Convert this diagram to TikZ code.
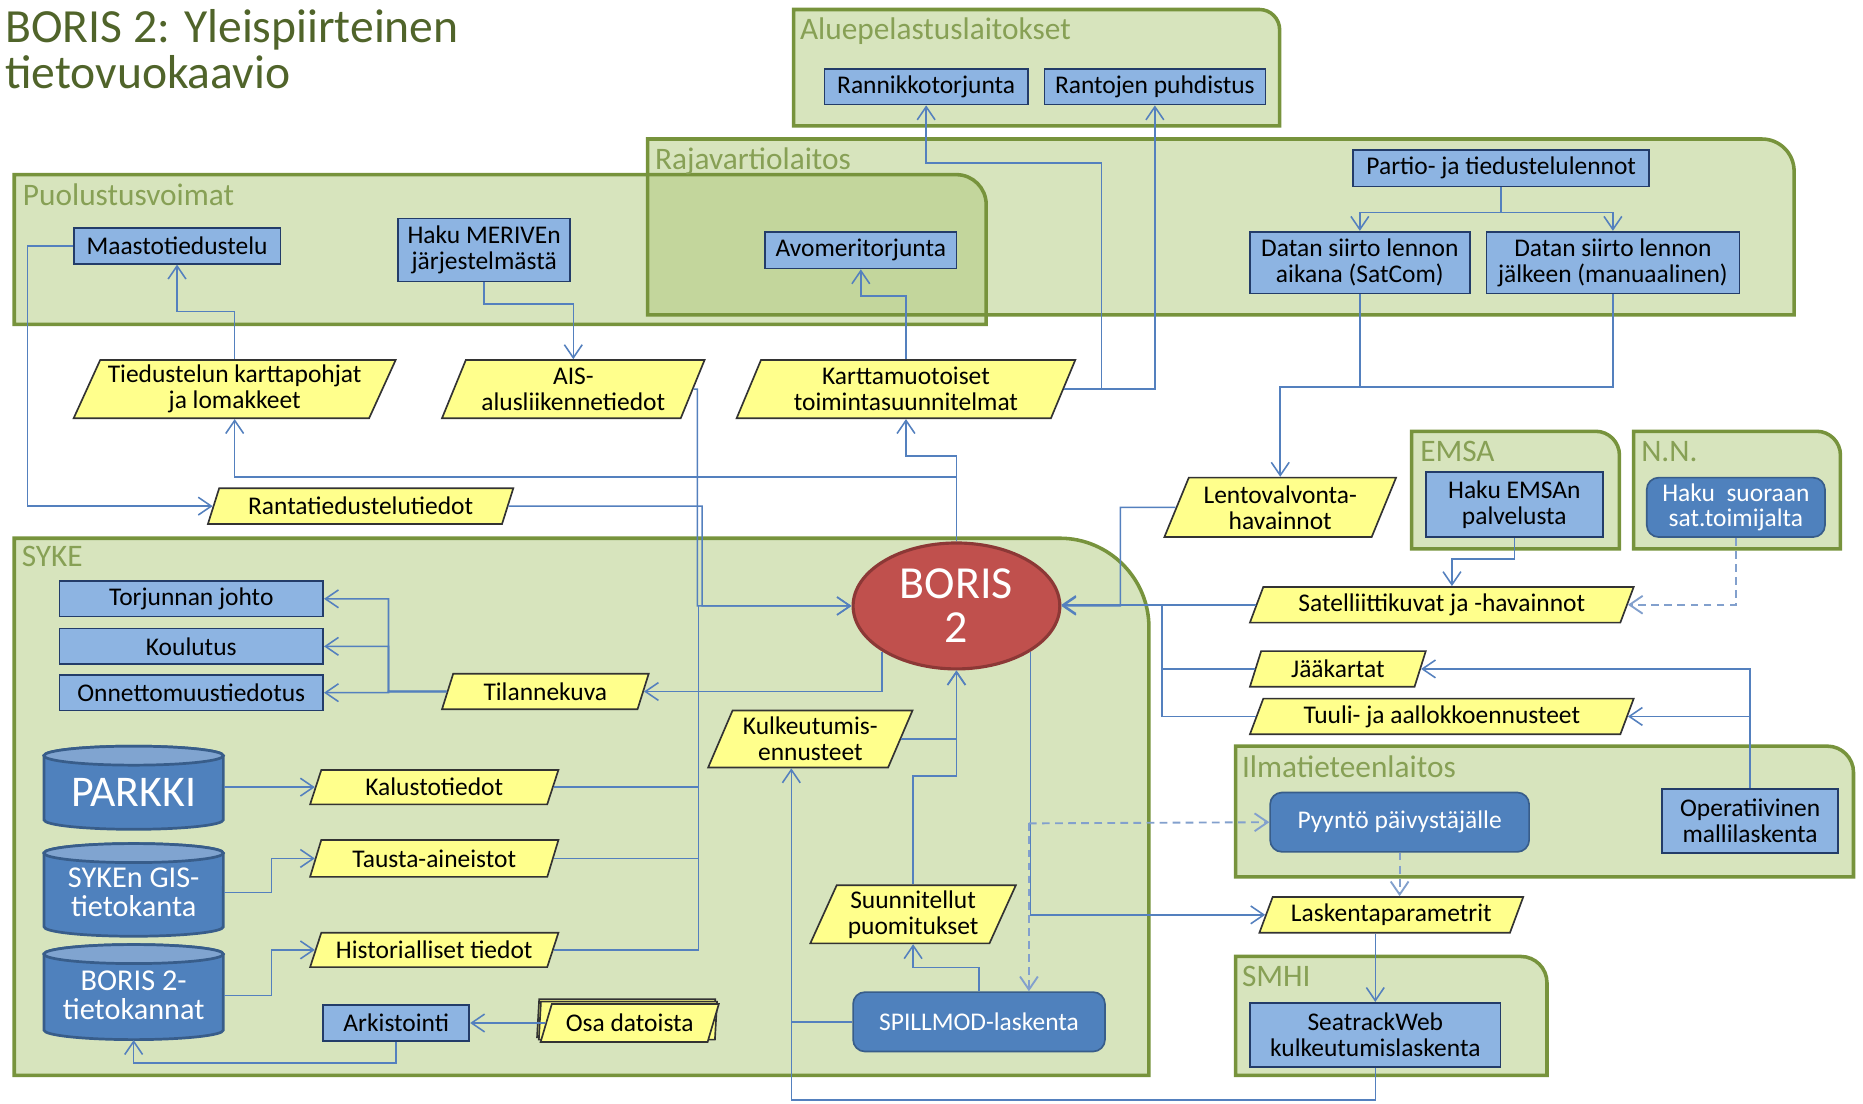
\documentclass[tikz,border=0pt]{standalone}
\usepackage{fontspec}
\setmainfont{Carlito}
\usetikzlibrary{shapes.geometric,arrows.meta,calc}
\definecolor{grpfill}{RGB}{175,201,123}
\definecolor{grpline}{RGB}{119,147,60}
\definecolor{grptext}{RGB}{135,160,85}
\definecolor{titlecol}{RGB}{80,100,42}
\definecolor{lightblue}{RGB}{141,180,226}
\definecolor{navyline}{RGB}{35,60,105}
\definecolor{darkblue}{RGB}{79,129,189}
\definecolor{capblue}{RGB}{128,164,208}
\definecolor{darkblueline}{RGB}{56,93,138}
\definecolor{paper}{RGB}{255,255,140}
\definecolor{borisred}{RGB}{192,80,77}
\definecolor{borisline}{RGB}{140,56,54}
\definecolor{wireblue}{RGB}{84,128,190}
\definecolor{dashblue}{RGB}{130,160,205}
\newcommand{\boxfont}{\fontsize{12.2}{12.4}\selectfont}
\newcommand{\grpfont}{\fontsize{15}{16}\selectfont}
\newcommand{\grpfill}[5]{\fill[grpfill,fill opacity=0.5] (#1,#4) -- (#1,#2) -- (#3-#5,#2) .. controls (#3-0.45*#5,#2) and (#3,#2+0.45*#5) .. (#3,#2+#5) -- (#3,#4) -- cycle;}
\newcommand{\grpdraw}[5]{\draw[grpline,line width=1.7pt] (#1,#4) -- (#1,#2) -- (#3-#5,#2) .. controls (#3-0.45*#5,#2) and (#3,#2+0.45*#5) .. (#3,#2+#5) -- (#3,#4) -- cycle;}
\newcommand{\dbcyl}[3]{%
  \filldraw[fill=darkblue,draw=darkblueline,line width=1.3pt] (#1-75.5,#2+8) -- (#1-75.5,#3-8) arc[start angle=180,end angle=360,x radius=1.51cm,y radius=0.16cm] -- (#1+75.5,#2+8) arc[start angle=0,end angle=180,x radius=1.51cm,y radius=0.16cm] -- cycle;
  \filldraw[fill=capblue,draw=darkblueline,line width=1.3pt] (#1,#2+8) ellipse[x radius=1.51cm,y radius=0.16cm];}

\begin{document}
\begin{tikzpicture}[x=0.02cm,y=-0.02cm,
    wh/.style 2 args={minimum width=#1*0.02cm,minimum height=#2*0.02cm},
    lightbox/.style={draw=navyline,fill=lightblue,line width=0.8pt,inner sep=1pt,align=center,font=\boxfont},
    darkbox/.style={draw=darkblueline,fill=darkblue,line width=0.8pt,rounded corners=2mm,inner sep=1pt,align=center,text=white,font=\boxfont},
    para/.style={trapezium,trapezium left angle=63,trapezium right angle=117,trapezium stretches body,draw=black!80,fill=paper,line width=0.8pt,inner xsep=2pt,inner ysep=1pt,align=center,font=\boxfont},
    grplabel/.style={anchor=north west,inner sep=0pt,text=grptext,font=\grpfont},
    dbtext/.style={inner sep=0pt,align=center,text=white},
    wire/.style={draw=wireblue,line width=0.75pt},
    flow/.style={wire,-{Straight Barb[length=2.2mm,width=3mm]}},
    dflow/.style={draw=dashblue,line width=0.9pt,dash pattern=on 1.3mm off 0.9mm,-{Straight Barb[length=2.2mm,width=3mm]}}]
    \useasboundingbox (0,0) rectangle (1568,929);

    \grpfill{668}{8}{1077}{106}{17}
    \grpfill{545}{117}{1510}{265}{27}
    \grpfill{12}{147}{830}{273}{25}
    \grpfill{12}{453}{967}{905}{75}
    \grpfill{1188}{363}{1363}{462}{20}
    \grpfill{1375}{363}{1549}{462}{20}
    \grpfill{1040}{628}{1560}{738}{22}
    \grpfill{1040}{805}{1302}{905}{22}
    \grpdraw{668}{8}{1077}{106}{17}
    \grpdraw{545}{117}{1510}{265}{27}
    \grpdraw{12}{147}{830}{273}{25}
    \grpdraw{12}{453}{967}{905}{75}
    \grpdraw{1188}{363}{1363}{462}{20}
    \grpdraw{1375}{363}{1549}{462}{20}
    \grpdraw{1040}{628}{1560}{738}{22}
    \grpdraw{1040}{805}{1302}{905}{22}

    \node[anchor=north west,inner sep=0pt,align=left,text=titlecol,font=\fontsize{22.8}{21.8}\selectfont] (title) at (4,8) {BORIS 2: Yleispiirteinen\\tietovuokaavio};
    \node[grplabel] (aluelbl) at (673,15) {Aluepelastuslaitokset};
    \node[grplabel] (rajalbl) at (551,124) {Rajavartiolaitos};
    \node[grplabel] (puollbl) at (19,154) {Puolustusvoimat};
    \node[grplabel] (sykelbl) at (18,459) {SYKE};
    \node[grplabel] (emsalbl) at (1195,371) {EMSA};
    \node[grplabel] (nnlbl) at (1381,371) {N.N.};
    \node[grplabel] (ilmalbl) at (1045,636) {Ilmatieteenlaitos};
    \node[grplabel] (smhilbl) at (1045,813) {SMHI};

    \node[lightbox,wh={171}{30}] (rannik) at (779.5,73) {Rannikkotorjunta};
    \node[lightbox,wh={186}{30}] (rantoj) at (972,73) {Rantojen puhdistus};
    \node[lightbox,wh={161}{31}] (avomeri) at (724.5,210.5) {Avomeritorjunta};
    \node[lightbox,wh={249}{31}] (partio) at (1263.5,141.5) {Partio- ja tiedustelulennot};
    \node[lightbox,wh={185}{52}] (satcom) at (1144.5,221) {Datan siirto lennon\\aikana (SatCom)};
    \node[lightbox,wh={213}{52}] (jalkeen) at (1357.5,221) {Datan siirto lennon\\jälkeen (manuaalinen)};
    \node[lightbox,wh={174}{30}] (maasto) at (149,207) {Maastotiedustelu};
    \node[lightbox,wh={145}{53}] (merive) at (407.5,210.5) {Haku MERIVEn\\järjestelmästä};
    \node[lightbox,wh={222}{30}] (torj) at (161,504) {Torjunnan johto};
    \node[lightbox,wh={222}{30}] (koul) at (161,544) {Koulutus};
    \node[lightbox,wh={222}{30}] (onnet) at (161,583) {Onnettomuustiedotus};
    \node[lightbox,wh={123}{30}] (arkist) at (333.5,861) {Arkistointi};
    \node[lightbox,wh={149}{55}] (emsahaku) at (1274.5,424.5) {Haku EMSAn\\palvelusta};
    \node[lightbox,wh={148}{54}] (opera) at (1473,691) {Operatiivinen\\mallilaskenta};
    \node[lightbox,wh={211}{54}] (seatrack) at (1157.5,871) {SeatrackWeb\\kulkeutumislaskenta};

    \node[darkbox,wh={150}{50}] (nnhaku) at (1461,427) {Haku\ \ suoraan\\sat.toimijalta};
    \node[darkbox,wh={218}{50}] (pyynto) at (1178,692) {Pyyntö päivystäjälle};
    \node[darkbox,wh={212}{50}] (spill) at (824,860) {SPILLMOD-laskenta};

    \node[para,wh={271}{49}] (tied) at (197.5,327.5) {Tiedustelun karttapohjat\\ja lomakkeet};
    \node[para,wh={221}{49}] (ais) at (482.5,327.5) {AIS-\\alusliikennetiedot};
    \node[para,wh={285}{49}] (kartta) at (762.5,327.5) {Karttamuotoiset\\toimintasuunnitelmat};
    \node[para,wh={257}{30}] (ranta) at (303.5,426) {Rantatiedustelutiedot};
    \node[para,wh={195}{50}] (lento) at (1077.5,427) {Lentovalvonta-\\havainnot};
    \node[para,wh={323}{30}] (sat) at (1213.5,509) {Satelliittikuvat ja -havainnot};
    \node[para,wh={148}{30}] (jaa) at (1126,563) {Jääkartat};
    \node[para,wh={323}{30}] (tuuli) at (1213.5,603) {Tuuli- ja aallokkoennusteet};
    \node[para,wh={222}{30}] (lask) at (1171,770) {Laskentaparametrit};
    \node[para,wh={174}{30}] (tilanne) at (459,582) {Tilannekuva};
    \node[para,wh={209}{29}] (kalusto) at (365.5,662.5) {Kalustotiedot};
    \node[para,wh={209}{31}] (tausta) at (365.5,722.5) {Tausta-aineistot};
    \node[para,wh={209}{29}] (histo) at (365.5,799.5) {Historialliset tiedot};
    \node[para,wh={172}{48}] (kulk) at (682,622) {Kulkeutumis-\\ennusteet};
    \node[para,wh={173}{49}] (suunn) at (768.5,769.5) {Suunnitellut\\puomitukset};
    \node[para,wh={150}{32}] (osaback2) at (527,857) {};
    \node[para,wh={150}{32}] (osaback1) at (528.5,859) {};
    \node[para,wh={150}{32}] (osa) at (530,861) {Osa datoista};

    \node[ellipse,draw=borisline,fill=borisred,line width=1.5pt,wh={174}{106},inner sep=0pt,text=white,align=center,font=\fontsize{22}{21}\selectfont] (boris) at (805,510) {BORIS\\2};

    \dbcyl{112.5}{628}{698}
    \dbcyl{112.5}{710}{788}
    \dbcyl{112.5}{795}{875}
    \node[dbtext,wh={151}{56},font=\fontsize{21}{22}\selectfont] (parkki) at (112.5,667) {PARKKI};
    \node[dbtext,wh={151}{64},font=\fontsize{14.5}{13.8}\selectfont] (gis) at (112.5,751) {SYKEn GIS-\\tietokanta};
    \node[dbtext,wh={151}{74},font=\fontsize{14.5}{13.8}\selectfont] (borisdb) at (112.5,838) {BORIS 2-\\tietokannat};

    \draw[flow] (maasto.west) -- ++(-38,0) |- (ranta.west);
    \draw[flow] (tied.north) -- ++(0,-40) -| (maasto.south);
    \draw[flow] (merive.south) -- ++(0,18) -| (ais.north);
    \draw[flow] (boris.north) -- ++(0,-72) -| (kartta.south);
    \draw[flow] (boris.north) -- ++(0,-54) -| (tied.south);
    \draw[flow] (kartta.north) -- ++(0,-53) -| (avomeri.south);
    \draw[flow] (kartta.east) -| (927,137) -| (rannik.south);
    \draw[flow] (kartta.east) -| (rantoj.south);
    \draw[flow] (ranta.east) -- (591,426) |- (boris.west);
    \draw[flow] (ais.east) -- (587,327.5) |- (boris.west);
    \draw[wire] (kalusto.east) -| (588,510);
    \draw[wire] (tausta.east) -| (588,510);
    \draw[wire] (histo.east) -| (588,510);
    \draw[flow] (boris.south west) |- (tilanne.east);
    \draw[flow] (tilanne.west) -- (327,582) |- (torj.east);
    \draw[flow] (tilanne.west) -- (327,582) |- (koul.east);
    \draw[flow] (tilanne.west) -- (327,582) |- (onnet.east);
    \draw[flow] (parkki.east |- kalusto.west) -- (kalusto.west);
    \draw[flow] (gis.east) -- ++(40,0) |- (tausta.west);
    \draw[flow] (borisdb.east) -- ++(40,0) |- (histo.west);
    \draw[flow] (osa.west) -- (arkist.east);
    \draw[flow] (arkist.south) -- ++(0,18) -| (borisdb.south);
    \draw[flow] (kulk.east) -| (boris.south);
    \draw[flow] (suunn.north) -- ++(0,-91) -| (boris.south);
    \draw[flow] (spill.north) -- ++(0,-20) -| (suunn.south);
    \draw[flow] (seatrack.south) -- ++(0,27) -| ([xshift=-0.32cm]kulk.south);
    \draw[wire] (spill.west) -- (666,860);
    \draw[flow] (boris.south east) |- (lask.west);
    \coordinate (dsplit) at (866,693);
    \draw[dflow] (dsplit) -- (pyynto.west);
    \draw[dflow] (dsplit) -- (dsplit |- spill.north);
    \draw[dflow] (pyynto.south) -- (pyynto.south |- lask.north);
    \draw[flow] (seatrack.north |- lask.south) -- (seatrack.north);
    \draw[flow] (opera.north) |- (jaa.east);
    \draw[flow] (opera.north) |- (tuuli.east);
    \draw[flow] (sat.west) -- (sat.west -| boris.east);
    \draw[wire] (jaa.west) -| (978,509);
    \draw[wire] (tuuli.west) -| (978,509);
    \draw[flow] (lento.west) -- (943,427) |- (boris.east);
    \draw[wire] (satcom.south) -- ++(0,78);
    \draw[flow] (jalkeen.south) -- ++(0,78) -| (lento.north);
    \draw[flow] (partio.south) -- ++(0,21) -| (satcom.north);
    \draw[flow] (partio.south) -- ++(0,21) -| (jalkeen.north);
    \draw[flow] (emsahaku.south) -- ++(0,18) -| ([xshift=0.17cm]sat.north);
    \draw[dflow] (nnhaku.south) |- (sat.east);
\end{tikzpicture}
\end{document}
